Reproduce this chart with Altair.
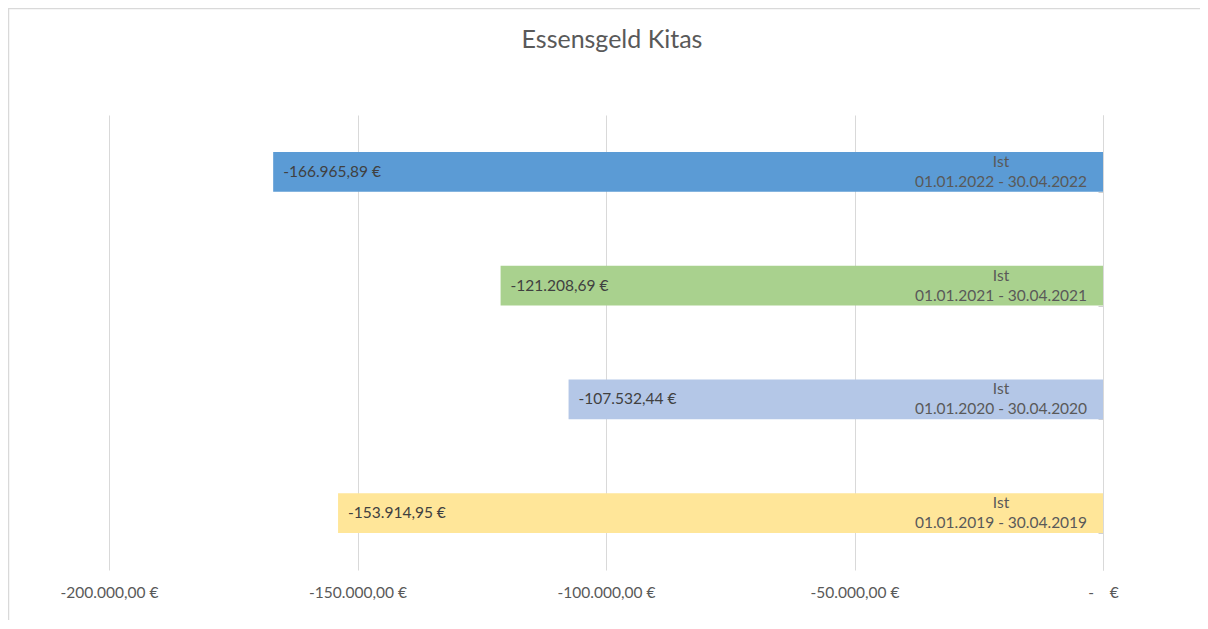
import altair as alt
import pandas as pd

# ---- data ----
periods = [
    "01.01.2022 - 30.04.2022",
    "01.01.2021 - 30.04.2021",
    "01.01.2020 - 30.04.2020",
    "01.01.2019 - 30.04.2019",
]
values = [-166965.89, -121208.69, -107532.44, -153914.95]
colors = ["#5B9BD5", "#A9D18E", "#B4C7E7", "#FFE699"]
series_name = "Ist"
tick_values = [-200000, -150000, -100000, -50000, 0]
tick_labels = ["-200.000,00 €", "-150.000,00 €", "-100.000,00 €", "-50.000,00 €",
               "-\u00a0\u00a0\u00a0\u00a0€"]
title_text = "Essensgeld Kitas"


def de_money(v):
    s = f"{v:,.2f}".replace(",", "#").replace(".", ",").replace("#", ".")
    return s + " €"


df = pd.DataFrame({
    "period": periods,
    "value": values,
    "color": colors,
    "value_label": [de_money(v) for v in values],
    "cat_label": [series_name + "\n" + p for p in periods],
})

FONT = "Lato"
FS = 15.5
W, H = 994, 455

label_expr = ""
for v, l in zip(tick_values, tick_labels):
    label_expr += f"datum.value == {v} ? '{l}' : "
label_expr += "''"

x_enc = alt.X(
    "value:Q",
    scale=alt.Scale(domain=[-200000, 0], nice=False),
    axis=alt.Axis(
        values=tick_values, labelExpr=label_expr, title=None, domain=False,
        ticks=False, tickSize=0, grid=True, gridColor="#d9d9d9", labelPadding=15,
        labelFontSize=FS, labelColor="#595959", labelFont=FONT, labelFlush=False,
        labelOverlap=False,
    ),
)
y_enc = alt.Y(
    "period:N", sort=periods,
    scale=alt.Scale(paddingInner=0.65, paddingOuter=0.325),
    axis=alt.Axis(
        orient="left", offset=-W, labels=False, title=None, domain=True,
        domainColor="#d9d9d9", ticks=True, tickColor="#d0d0d0", tickSize=5,
        tickBand="extent", grid=False,
    ),
)

base = alt.Chart(df)

bars = base.mark_bar().encode(
    x=x_enc,
    y=y_enc,
    color=alt.Color("color:N", scale=None),
)

value_text = base.mark_text(
    align="left", baseline="middle", dx=10, font=FONT, fontSize=FS, color="#404040",
).encode(x="value:Q", y=alt.Y("period:N", sort=periods), text="value_label:N")

cat_text = base.mark_text(
    align="center", baseline="middle", dx=-102, dy=-10, font=FONT, fontSize=FS,
    color="#595959", lineBreak="\n", lineHeight=20,
).encode(x=alt.datum(0), y=alt.Y("period:N", sort=periods), text="cat_label:N")

border_df = pd.DataFrame({"a": [0]})
border_top = alt.Chart(border_df).mark_rule(color="#d9d9d9", strokeWidth=1.5).encode(
    x=alt.value(-101), x2=alt.value(1200), y=alt.value(-106.5)
)
border_left = alt.Chart(border_df).mark_rule(color="#d9d9d9", strokeWidth=1.5).encode(
    x=alt.value(-100.5), y=alt.value(-107), y2=alt.value(600)
)

chart = alt.layer(bars, value_text, cat_text, border_top, border_left).properties(
    width=W, height=H,
    title=alt.TitleParams(
        title_text, fontSize=25, font=FONT, fontWeight="normal", color="#595959",
        anchor="middle", frame="group", offset=-46, dx=6,
    ),
    autosize=alt.AutoSizeParams(type="none"),
    padding={"left": 101, "top": 107, "right": 97, "bottom": 50},
).configure_view(stroke=None)

chart.save("out.html", embed_options={"renderer": "svg", "actions": False})
